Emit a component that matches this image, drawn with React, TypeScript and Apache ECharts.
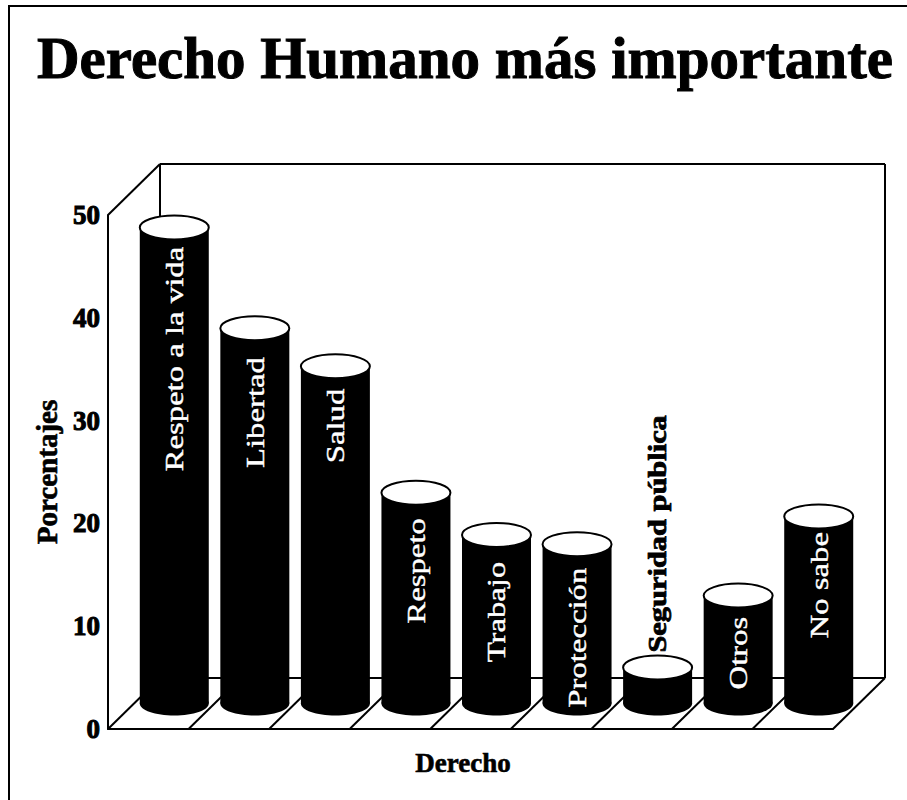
import React, { useEffect, useRef } from "react";
import * as echarts from "echarts";

const categories = ["c1", "c2", "c3", "c4", "c5", "c6", "c7", "c8", "c9"];
const labels = ["Respeto a la vida", "Libertad", "Salud", "Respeto", "Trabajo", "Protección", "Seguridad pública", "Otros", "No sabe"];
const values = [46.3, 36.5, 32.8, 20.5, 16.4, 15.5, 3.5, 10.5, 18.2];
const labelCenters = [33.5, 28.3, 27, 12.9, 8.9, 6.4, 16.5, 4.9, 11.5];
const yTicks = [0, 10, 20, 30, 40, 50];

const SERIF = '"Liberation Serif", "Times New Roman", serif';
const DX = 52;
const DY = 51;

function renderWalls(params: any, api: any) {
  const p0 = api.coord([0, 0]);
  const size = api.size([1, 50]);
  const catW = size[0];
  const x0 = p0[0] - catW / 2;
  const y0 = p0[1];
  const yTop = api.coord([0, 50])[1];
  const lines: any[] = [];
  const line = (x1: number, y1: number, x2: number, y2: number) =>
    lines.push({ type: "line", shape: { x1, y1, x2, y2 }, style: { stroke: "#000", lineWidth: 2 } });
  const x9 = x0 + catW * categories.length;
  line(x0 + DX, yTop - DY, x9 + DX, yTop - DY);
  line(x0 + DX, yTop - DY, x0 + DX, y0 - DY);
  line(x9 + DX, yTop - DY, x9 + DX, y0 - DY);
  line(x0 + DX, y0 - DY, x9 + DX, y0 - DY);
  line(x0, yTop, x0 + DX, yTop - DY);
  for (let i = 0; i <= categories.length; i++) {
    const x = x0 + catW * i;
    line(x, y0, x + DX, y0 - DY);
  }
  return { type: "group", children: lines };
}

function renderCylinder(params: any, api: any) {
  const i = api.value(0);
  const base = api.coord([i, 0]);
  const top = api.coord([i, api.value(1)]);
  const cx = base[0] + DX / 2;
  const by = base[1] - DY / 2;
  const ty = top[1] - DY / 2;
  const rx = 34.5;
  const ry = 12;
  return {
    type: "group",
    children: [
      { type: "rect", shape: { x: cx - rx, y: ty, width: rx * 2, height: by - ty }, style: { fill: "#000" } },
      { type: "ellipse", shape: { cx, cy: by, rx, ry }, style: { fill: "#000" } },
      { type: "ellipse", shape: { cx, cy: ty, rx, ry }, style: { fill: "#fff", stroke: "#000", lineWidth: 2 } },
    ],
  };
}

function renderLabel(params: any, api: any) {
  const i = api.value(0);
  const pos = api.coord([i, api.value(1)]);
  const outside = values[i] < 5;
  return {
    type: "text",
    x: pos[0] + DX / 2,
    y: pos[1] - DY / 2,
    rotation: Math.PI / 2,
    scaleX: outside ? 1.17 : 1.26,
    style: {
      text: labels[i],
      fill: outside ? "#000" : "#fff",
      font: `${outside ? "bold" : "normal"} 26px ${SERIF}`,
      align: "center",
      verticalAlign: "middle",
      stroke: outside ? "#000" : "#fff",
      lineWidth: outside ? 0.8 : 0.4,
    },
  };
}

export default function App() {
  const ref = useRef<HTMLDivElement>(null);
  useEffect(() => {
    const chart = echarts.init(ref.current!, undefined, { renderer: "svg" });
    chart.setOption({
      animation: false,
      backgroundColor: "#fff",
      title: {
        text: "Derecho Humano más importante",
        left: 460,
        top: 23,
        textAlign: "center",
        textStyle: { fontFamily: SERIF, fontWeight: "bold", fontSize: 59, color: "#000", textBorderColor: "#000", textBorderWidth: 1 },
      },
      graphic: [
        { type: "rect", shape: { x: 9, y: 6, width: 1000, height: 1000 }, style: { fill: "none", stroke: "#000", lineWidth: 2 } },
      ],
      grid: { left: 108, top: 215, width: 725, height: 514, containLabel: false },
      xAxis: {
        type: "category",
        data: categories,
        name: "Derecho",
        nameLocation: "middle",
        nameGap: 20,
        nameTextStyle: { fontFamily: SERIF, fontWeight: "bold", fontSize: 27, color: "#000", padding: [0, 15, 0, 0], textBorderColor: "#000", textBorderWidth: 0.6 },
        axisLabel: { show: false },
        axisTick: { show: false },
        axisLine: { lineStyle: { color: "#000", width: 2 } },
        splitLine: { show: false },
      },
      yAxis: {
        type: "value",
        min: yTicks[0],
        max: yTicks[yTicks.length - 1],
        interval: 10,
        name: "Porcentajes",
        nameLocation: "middle",
        nameGap: 46,
        nameRotate: 90,
        nameTextStyle: { fontFamily: SERIF, fontWeight: "bold", fontSize: 29, color: "#000", textBorderColor: "#000", textBorderWidth: 0.6 },
        axisLabel: { fontFamily: SERIF, fontWeight: "bold", fontSize: 27, color: "#000", margin: 8, textBorderColor: "#000", textBorderWidth: 1 },
        axisTick: { show: false },
        axisLine: { show: true, lineStyle: { color: "#000", width: 2 } },
        splitLine: { show: false },
      },
      series: [
        { type: "custom", coordinateSystem: "cartesian2d", data: [[0, 0]], renderItem: renderWalls, silent: true, z: 1, clip: false },
        { type: "custom", coordinateSystem: "cartesian2d", data: values.map((v, i) => [i, v]), renderItem: renderCylinder, silent: true, z: 2, clip: false },
        { type: "custom", coordinateSystem: "cartesian2d", data: labelCenters.map((v, i) => [i, v]), renderItem: renderLabel, silent: true, z: 3, clip: false },
      ],
    });
    return () => chart.dispose();
  }, []);
  return <div ref={ref} style={{ position: "fixed", left: 0, top: 0, width: 907, height: 800 }} />;
}
